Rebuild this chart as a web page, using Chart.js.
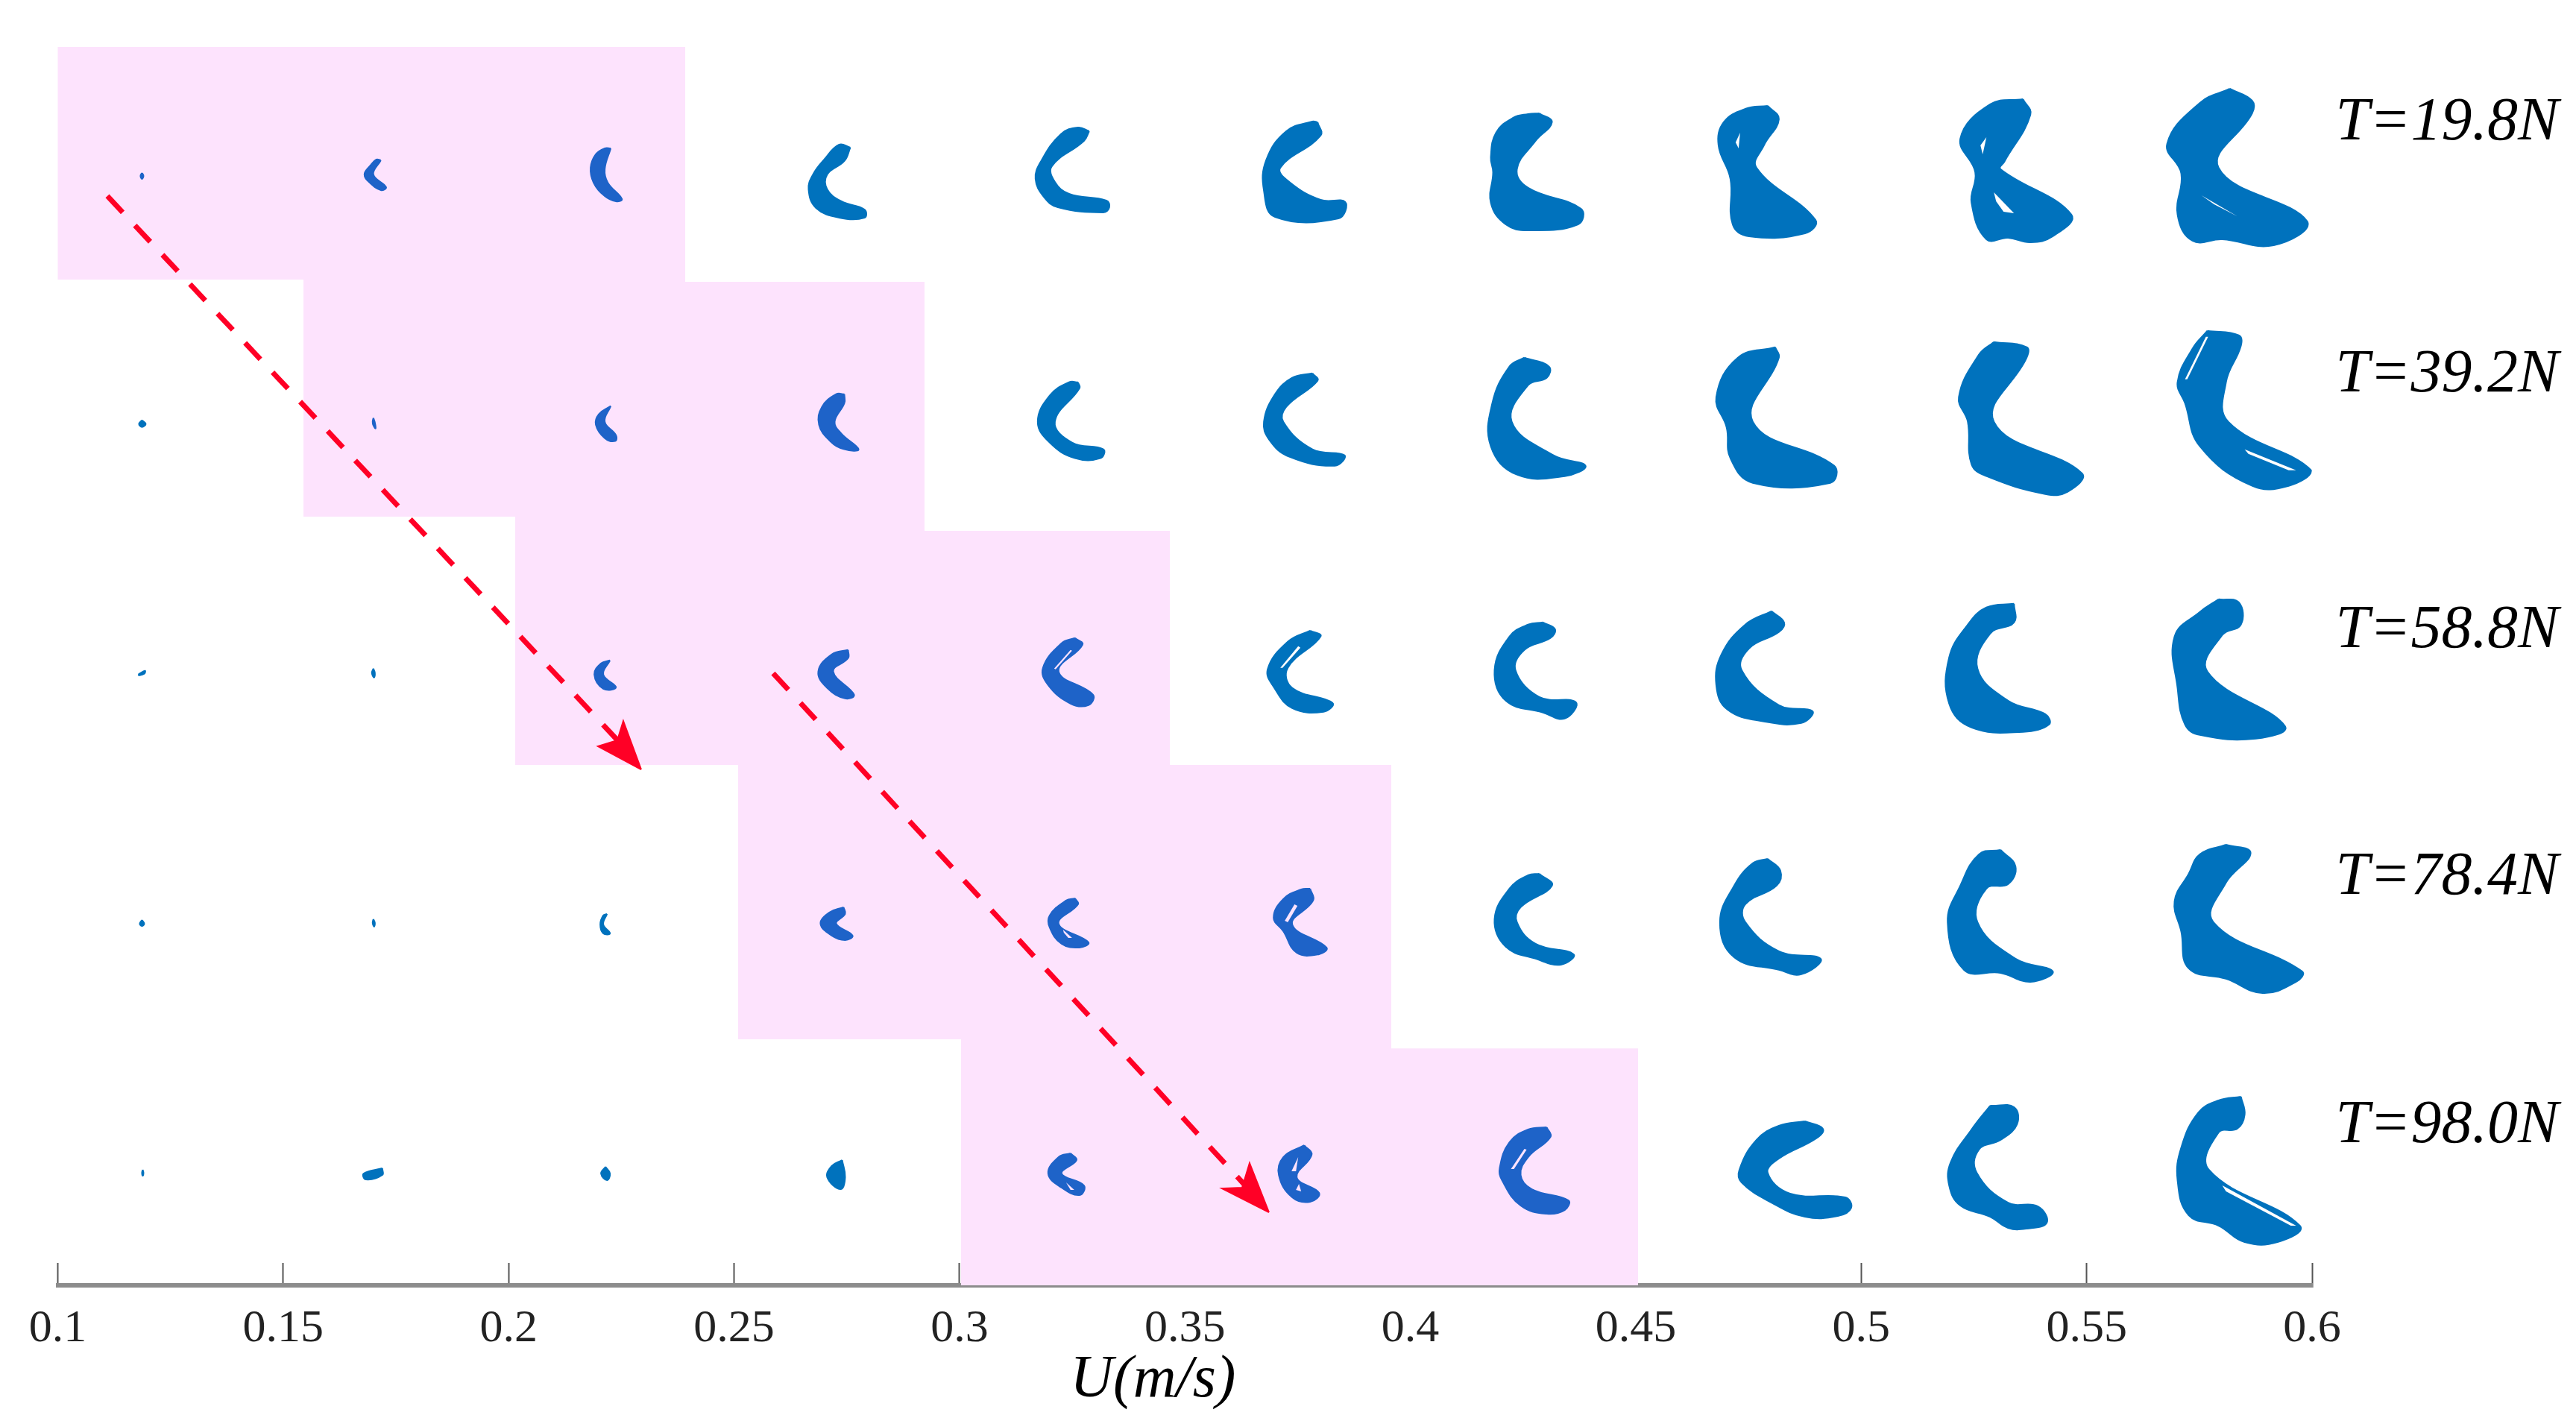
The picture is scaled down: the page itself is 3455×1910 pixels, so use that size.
<!DOCTYPE html>
<html>
<head>
<meta charset="utf-8">
<style>
  html, body { margin: 0; padding: 0; background: #fff; }
  canvas { display: block; }
</style>
<script src="https://cdn.jsdelivr.net/npm/chart.js"></script>
</head>
<body>
<canvas id="myChart" width="3455" height="1910"></canvas>
<script>
// flow speed of each column (m/s), tension of each row (N)
const speedValues = [0.12, 0.17, 0.22, 0.27, 0.32, 0.37, 0.42, 0.47, 0.52, 0.57];
const tensionValues = [19.8, 39.2, 58.8, 78.4, 98.0];
const rowLabels = ['T=19.8N', 'T=39.2N', 'T=58.8N', 'T=78.4N', 'T=98.0N'];
const tickLabels = ['0.1', '0.15', '0.2', '0.25', '0.3', '0.35', '0.4', '0.45', '0.5', '0.55', '0.6'];

// orbit outlines: dx,dy pairs, displacement from the (speed, tension) position
const orbitsT198 = [
  [-8,-4, -6,0, -8,4, -10,0],
  [10,-21, 0,-2, 17,15, 10,19, -5,9, -12,-2, -4,-14, 4,-22],
  [16,-37, 8,-9, 12,9, 31,31, 23,34, 8,27, -7,9, -11,-11, -4,-29, 8,-37],
  [35,-38, 27,-20, 4,-2, 4,18, 23,34, 54,45, 54,56, 20,56, -11,43, -21,18, -15,-2, 0,-22, 20,-42],
  [53,-60, 46,-47, 3,-13, 7,8, 26,24, 76,33, 80,42, 72,49, 11,42, -8,28, -19,4, -12,-19, 15,-56, 38,-65],
  [57,-72, 61,-54, 7,-11, 19,8, 61,32, 94,35, 85,57, 0,55, -15,20, -12,-21, 15,-60, 50,-73],
  [52,-84, 69,-72, 47,-47, 22,-9, 37,16, 108,44, 104,65, 37,73, 7,65, -13,36, -10,-5, -13,-25, -6,-58, 17,-78, 37,-83],
  [56,-94, 71,-76, 51,-41, 41,-11, 120,59, 106,77, 31,81, 9,65, 6,4, -10,-41, -3,-72, 26,-90],
  [96,-103, 106,-82, 71,-19, 66,-9, 161,52, 136,81, 106,89, 76,83, 47,85, 27,36, 32,-5, 12,-50, 52,-96],
  [71,-117, 101,-101, 101,-84, 56,-11, 175,61, 130,93, 61,85, 21,87, 1,52, 6,-3, -13,-43, 31,-98]
];
const orbitsT392 = [
  [-8,-4, -3,1, -8,5, -12,1],
  [0,-7, 2,-1, 3,7, 0,3, -1,-2],
  [16,-23, 8,-2, 23,16, 22,24, 8,20, -4,2, 0,-12],
  [27,-39, 27,-27, 14,-2, 23,14, 46,35, 27,35, 8,24, -7,2, -3,-22, 16,-39],
  [38,-55, 40,-47, 7,-2, 30,26, 72,35, 68,47, 34,47, 0,26, -16,-2, 0,-37, 26,-55],
  [50,-67, 57,-57, 15,-22, 11,-2, 50,35, 93,43, 80,57, 19,45, -8,22, -15,-2, 0,-39, 23,-61],
  [32,-88, 65,-76, 62,-61, 37,-51, 15,-2, 71,43, 114,57, 86,71, 22,69, -13,31, -11,-27, 12,-76],
  [66,-102, 71,-88, 36,-2, 145,57, 140,80, 36,80, 6,47, 1,6, -13,-35, 16,-88],
  [57,-109, 101,-102, 101,-88, 57,-2, 175,67, 156,92, 126,95, 47,71, 27,55, 22,-2, 10,-35, 37,-92],
  [41,-124, 83,-118, 86,-104, 66,-55, 69,-2, 180,63, 150,84, 101,84, 31,31, 11,-27, 1,-55, 21,-100]
];
const orbitsT588 = [
  [-13,2, -4,-3, -5,1, -12,3],
  [0,-6, 2,0, 1,6, -2,0],
  [15,-17, 6,2, 23,19, 6,21, -6,2, 3,-13],
  [32,-31, 32,-20, 12,-2, 40,29, 28,34, 4,20, -8,-2, 10,-25],
  [34,-47, 44,-38, 12,-2, 58,29, 52,43, 28,41, -2,16, -9,-7, 16,-40],
  [47,-57, 61,-49, 17,-7, 23,20, 77,40, 65,52, 23,47, -1,20, -10,-5, 17,-42],
  [57,-68, 73,-59, 67,-47, 32,-31, 20,-4, 52,32, 101,39, 86,61, 57,53, 7,37, -8,-4, 12,-49, 37,-65],
  [61,-83, 78,-68, 71,-55, 31,-33, 21,-4, 71,43, 116,51, 101,67, 51,65, 2,49, -13,16, -6,-25, 26,-65],
  [84,-93, 84,-68, 52,-53, 35,-6, 76,37, 126,55, 131,69, 96,79, 27,73, -3,41, -3,-21, 22,-65, 47,-88],
  [56,-99, 83,-95, 86,-65, 61,-51, 41,-2, 145,71, 106,88, 31,83, 11,69, 1,20, -3,-49, 31,-82]
];
const orbitsT784 = [
  [-8,-4, -5,1, -8,4, -11,1],
  [0,-5, 2,0, 1,5, -1,0],
  [11,-12, 6,2, 15,14, 6,14, 2,2, 6,-10],
  [26,-21, 28,-12, 16,1, 38,17, 28,23, 10,17, -5,1, 7,-14],
  [34,-33, 38,-25, 12,1, 52,26, 40,33, 16,28, 0,6, 0,-10, 22,-30],
  [47,-46, 51,-30, 23,2, 69,33, 59,42, 29,40, 11,11, -2,-7, 11,-32, 35,-45],
  [52,-66, 69,-50, 27,-21, 22,-1, 47,28, 98,42, 81,56, 47,48, 7,32, -8,-5, 12,-46, 37,-64],
  [56,-86, 73,-70, 68,-50, 26,-25, 26,-1, 71,38, 127,48, 101,69, 71,63, 11,46, -8,-1, 11,-50, 36,-80],
  [66,-98, 86,-76, 76,-52, 47,-46, 35,-1, 86,48, 136,65, 106,79, 66,67, 17,63, -5,-1, 12,-50, 37,-92],
  [66,-105, 99,-94, 66,-54, 49,-1, 168,65, 160,79, 115,94, 66,75, 16,61, 6,12, -3,-29, 16,-66, 31,-92]
];
const orbitsT980 = [
  [-7,-4, -6,0, -7,4, -8,0],
  [12,-6, 12,3, -10,9, -13,1],
  [9,-8, 15,1, 11,10, 3,1],
  [24,-17, 28,6, 22,22, 4,6, 10,-9],
  [28,-26, 36,-17, 16,1, 46,17, 40,30, 16,20, -2,1, 12,-21],
  [39,-37, 49,-24, 29,6, 59,27, 47,39, 23,33, 5,3, 11,-21],
  [62,-61, 67,-48, 37,-21, 27,3, 42,22, 91,37, 86,50, 62,55, 27,44, 2,10, -1,-7, 12,-41, 37,-58],
  [106,-69, 130,-59, 121,-46, 71,-19, 56,0, 86,28, 160,33, 168,47, 150,58, 106,59, 61,40, 21,13, 18,-4, 41,-44, 71,-63],
  [52,-90, 84,-88, 88,-65, 66,-44, 37,-31, 34,0, 76,40, 116,45, 128,67, 101,75, 76,74, 52,59, 12,44, -3,17, -1,-14, 27,-58],
  [86,-102, 91,-78, 81,-59, 56,-54, 43,-4, 165,71, 135,93, 91,93, 56,71, 16,57, 1,10, 6,-34, 29,-81, 56,-97]
];
const allOrbits = [orbitsT198, orbitsT392, orbitsT588, orbitsT784, orbitsT980];

// gaps inside the orbits: row, column, outline
const orbitGaps = [
  [0, 7, [19,-58, 17,-37, 13,-45]],
  [0, 8, [47,-52, 42,-29, 39,-41]],
  [0, 8, [57,22, 84,50, 70,48, 60,34]],
  [0, 9, [33,26, 81,54, 50,38]],
  [1, 9, [39,-116, 11,-59, 14,-59, 42,-116]],
  [1, 9, [91,35, 160,63, 150,63, 96,41]],
  [2, 4, [28,-31, 6,-6, 8,-5, 30,-30]],
  [2, 5, [31,-36, 7,-7, 10,-7, 34,-34]],
  [3, 4, [18,9, 30,20, 25,20, 19,13]],
  [3, 5, [26,-25, 13,-3, 17,-1, 30,-23]],
  [4, 4, [22,13, 33,23, 28,23]],
  [4, 5, [31,-21, 22,-2, 28,-2]],
  [4, 5, [32,15, 35,25, 28,23]],
  [4, 6, [32,-32, 14,-5, 18,-5, 35,-31]],
  [4, 9, [61,17, 160,71, 153,71, 66,25]]
];

// shaded region boundary
const regionU = [0.0994, 0.23916, 0.23916, 0.29224, 0.29224, 0.34665, 0.34665, 0.39577, 0.39577, 0.4505, 0.4505, 0.30034, 0.30034, 0.2509, 0.2509, 0.20146, 0.20146, 0.15449, 0.15449, 0.0994, 0.0994];
const regionT = [9.685, 9.685, 28.11, 28.11, 47.64, 47.64, 66.01, 66.01, 88.24, 88.24, 106.83, 106.83, 87.53, 87.53, 66.01, 66.01, 46.53, 46.53, 27.93, 27.93, 9.685];

// the two trend arrows
const arrow1U = [0.111, 0.22543];
const arrow1T = [21.38, 64.55];
const arrow1HeadU = [0.2294, 0.22543, 0.22411, 0.21981, 0.2294];
const arrow1HeadT = [66.36, 62.56, 64.08, 64.55, 66.36];
const arrow2U = [0.25867, 0.36368];
const arrow2T = [58.82, 99.11];
const arrow2HeadU = [0.36864, 0.36434, 0.36269, 0.35823, 0.36864];
const arrow2HeadT = [101.1, 97.24, 99.17, 99.23, 101.1];

// displacement to axis units
const dxPerU = 6047;
const dyPerT = 17.097;

const pink = '#FDE3FD';
const blue = '#0072BD';
const blueOnPink = '#1E63C8';
const red = '#FF0026';

function zipXY(xs, ys) {
  return xs.map((x, i) => ({x: x, y: ys[i]}));
}

// outline pairs -> closed list of points around (speed, tension)
function outlinePoints(flat, speed, tension) {
  const pts = [];
  for (let i = 0; i < flat.length; i += 2) {
    pts.push({x: speed + flat[i] / dxPerU, y: tension + flat[i + 1] / dyPerT});
  }
  pts.push(pts[0]);
  return pts;
}

function shapeDataset(data, color, order, tension) {
  return {
    data: data,
    showLine: true,
    fill: 'shape',
    backgroundColor: color,
    borderColor: color,
    borderWidth: 2,
    pointRadius: 0,
    tension: tension,
    order: order
  };
}

const datasets = [];
datasets.push(shapeDataset(zipXY(regionU, regionT), pink, 100, 0));
datasets[0].borderWidth = 0;

allOrbits.forEach((row, r) => {
  row.forEach((flat, c) => {
    // shaded cells run along the diagonal, three per row
    const shaded = c >= r && c <= r + 2;
    datasets.push(shapeDataset(outlinePoints(flat, speedValues[c], tensionValues[r]), shaded ? blueOnPink : blue, 50, 0.42));
  });
});

orbitGaps.forEach(gap => {
  const r = gap[0], c = gap[1];
  const shaded = c >= r && c <= r + 2;
  const ds = shapeDataset(outlinePoints(gap[2], speedValues[c], tensionValues[r]), shaded ? pink : '#ffffff', 40, 0);
  ds.borderWidth = 0;
  datasets.push(ds);
});

[[arrow1U, arrow1T, arrow1HeadU, arrow1HeadT], [arrow2U, arrow2T, arrow2HeadU, arrow2HeadT]].forEach(a => {
  datasets.push({
    data: zipXY(a[0], a[1]),
    showLine: true,
    borderColor: red,
    borderWidth: 7,
    borderDash: [30, 24],
    pointRadius: 0,
    fill: false,
    order: 10
  });
  datasets.push(shapeDataset(zipXY(a[2], a[3]), red, 9, 0));
});

// text that sits beside the plot
const textPlugin = {
  id: 'rowText',
  afterDraw(chart) {
    const ctx = chart.ctx;
    const xs = chart.scales.x;
    const ys = chart.scales.y;
    const baselineShift = [-49, -43, -35, -39, -41];
    ctx.save();
    ctx.fillStyle = '#000';
    ctx.textAlign = 'left';
    ctx.textBaseline = 'alphabetic';
    ctx.font = 'italic 82px "Liberation Serif"';
    rowLabels.forEach((label, i) => {
      ctx.fillText(label, xs.getPixelForValue(0.6052), ys.getPixelForValue(tensionValues[i]) + baselineShift[i]);
    });
    ctx.textAlign = 'center';
    ctx.font = 'italic 80px "Liberation Serif"';
    ctx.fillText('U(m/s)', xs.getPixelForValue(0.3429), 1873);
    ctx.restore();
  }
};

new Chart(document.getElementById('myChart'), {
  type: 'scatter',
  data: {datasets: datasets},
  plugins: [textPlugin],
  options: {
    responsive: false,
    animation: false,
    devicePixelRatio: 1,
    layout: {padding: {left: 77.5, right: 354, top: 0, bottom: 0}},
    plugins: {legend: {display: false}, tooltip: {enabled: false}},
    scales: {
      x: {
        type: 'linear',
        min: 0.1,
        max: 0.6,
        afterFit(scale) { scale.height = 186; scale.paddingLeft = 0; scale.paddingRight = 0; },
        border: {display: true, color: '#8c8c8c', width: 6},
        grid: {drawOnChartArea: false, drawTicks: true, tickLength: -30, tickColor: '#555', tickWidth: 2},
        ticks: {
          stepSize: 0.05,
          autoSkip: false,
          maxRotation: 0,
          padding: 52,
          color: '#222',
          font: {family: 'Liberation Serif', size: 62},
          callback: (value, index) => tickLabels[index]
        }
      },
      y: {
        type: 'linear',
        display: false,
        reverse: true,
        min: 6,
        max: 106.83
      }
    }
  }
});
</script>
</body>
</html>
